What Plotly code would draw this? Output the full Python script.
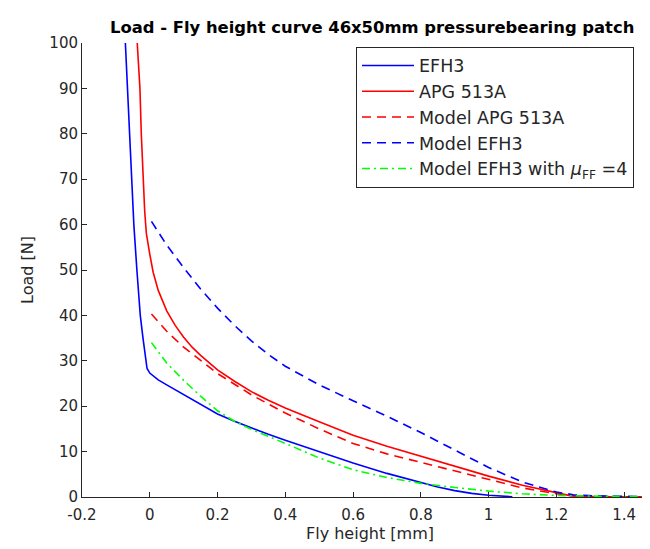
import plotly.graph_objects as go

# ---- data ----
efh3_x = [-0.072, -0.066, -0.06, -0.054, -0.047, -0.038, -0.028, -0.02, -0.013, -0.008, 0.0, 0.012,
          0.025, 0.05, 0.08, 0.12, 0.16, 0.2, 0.25, 0.3, 0.35, 0.4, 0.5, 0.6, 0.7, 0.8, 0.85, 0.9,
          0.95, 1.0, 1.04, 1.07]
efh3_y = [100, 90, 80, 70, 60, 50, 40, 35, 31, 28.3, 27.3, 26.5,
          25.8, 24.7, 23.4, 21.6, 19.9, 18.3, 16.7, 15.2, 13.8, 12.5, 10.0, 7.5, 5.2, 3.1, 2.2, 1.4,
          0.8, 0.4, 0.15, 0.05]

apg_x = [-0.037, -0.033, -0.029, -0.025, -0.02, -0.015, -0.01, -0.005, 0.0, 0.01, 0.025, 0.05,
         0.075, 0.1, 0.125, 0.15, 0.2, 0.25, 0.3, 0.35, 0.4, 0.5, 0.6, 0.7, 0.8, 0.9, 1.0, 1.1,
         1.15, 1.2, 1.24, 1.3, 1.4, 1.5]
apg_y = [100, 95, 90, 80, 70, 63, 58, 55.5, 53.5, 49.5, 45.5, 41.0,
         37.8, 35.2, 33.0, 31.2, 28.0, 25.5, 23.2, 21.3, 19.6, 16.6, 13.6, 11.2, 9.0, 6.8, 4.6, 2.6,
         1.8, 1.0, 0.3, 0.1, 0.05, 0.02]

model_apg_x = [0.005, 0.05, 0.1, 0.15, 0.2, 0.3, 0.4, 0.5, 0.6, 0.7, 0.8, 0.9, 1.0, 1.1, 1.2,
               1.25, 1.3, 1.4, 1.5]
model_apg_y = [40.3, 36.5, 33, 30, 27.2, 22.5, 18.5, 15, 11.8, 9.5, 7.6, 5.7, 3.9, 2.0, 0.7,
               0.25, 0.1, 0.03, 0.01]

model_efh3_x = [0.005, 0.05, 0.1, 0.15, 0.2, 0.25, 0.3, 0.35, 0.4, 0.5, 0.6, 0.7, 0.8, 0.9, 1.0,
                1.1, 1.2, 1.25, 1.3, 1.4, 1.5]
model_efh3_y = [60.7, 55.5, 50.5, 45.8, 41.6, 37.8, 34.4, 31.4, 28.8, 24.7, 21.2, 17.8, 14.2,
                10.3, 6.5, 3.3, 1.1, 0.5, 0.3, 0.15, 0.05]

model_mu_x = [0.005, 0.05, 0.1, 0.15, 0.2, 0.25, 0.3, 0.35, 0.4, 0.5, 0.6, 0.7, 0.8, 0.9, 1.0,
              1.1, 1.2, 1.3, 1.4, 1.5]
model_mu_y = [34, 29.5, 25.7, 22.2, 19.0, 16.7, 14.9, 13.4, 11.8, 8.6, 6.0, 4.3, 3.0, 2.1, 1.3,
              0.7, 0.35, 0.2, 0.1, 0.05]

x_ticks = [-0.2, 0, 0.2, 0.4, 0.6, 0.8, 1, 1.2, 1.4]
x_tick_labels = ["-0.2", "0", "0.2", "0.4", "0.6", "0.8", "1", "1.2", "1.4"]
y_ticks = [0, 10, 20, 30, 40, 50, 60, 70, 80, 90, 100]

FONT = "DejaVu Sans"
AX = "#262626"

fig = go.Figure()
fig.add_trace(go.Scatter(x=efh3_x, y=efh3_y, mode="lines", name="EFH3",
                         line=dict(color="#0000FF", width=1.6)))
fig.add_trace(go.Scatter(x=apg_x, y=apg_y, mode="lines", name="APG 513A",
                         line=dict(color="#FF0000", width=1.6)))
fig.add_trace(go.Scatter(x=model_apg_x, y=model_apg_y, mode="lines", name="Model APG 513A",
                         line=dict(color="#FF0000", width=1.6, dash="9px,6px")))
fig.add_trace(go.Scatter(x=model_efh3_x, y=model_efh3_y, mode="lines", name="Model EFH3",
                         line=dict(color="#0000FF", width=1.6, dash="9px,6px")))
fig.add_trace(go.Scatter(x=model_mu_x, y=model_mu_y, mode="lines",
                         name="Model EFH3 with <i>μ</i><sub>FF</sub> =4",
                         line=dict(color="#00FF00", width=1.6, dash="8px,4px,2px,4px")))

fig.update_layout(
    width=650, height=549,
    margin=dict(l=74, r=0, t=35, b=60),
    paper_bgcolor="white", plot_bgcolor="white",
    font=dict(family=FONT, size=15, color=AX),
    showlegend=True,
    legend=dict(x=0.4757, y=0.992, xanchor="left", yanchor="top",
                bgcolor="white", bordercolor=AX, borderwidth=1,
                font=dict(family=FONT, size=17.5, color=AX),
                itemwidth=52, tracegroupgap=0),
    xaxis=dict(range=[-0.2, 1.5], tickmode="array", tickvals=x_ticks, ticktext=x_tick_labels,
               ticks="inside", ticklen=5, tickcolor=AX, showline=True, linecolor=AX,
               linewidth=1, showgrid=False, zeroline=False, mirror=False,
               ticklabelstandoff=4,
               tickfont=dict(family=FONT, size=15, color=AX),
               title=dict(text="Fly height [mm]", font=dict(family=FONT, size=16, color=AX),
                          standoff=0)),
    yaxis=dict(range=[0, 100], tickmode="array", tickvals=y_ticks,
               ticks="inside", ticklen=5, tickcolor=AX, showline=True, linecolor=AX,
               linewidth=1, showgrid=False, zeroline=False, mirror=False,
               tickfont=dict(family=FONT, size=15, color=AX),
               title=dict(text="Load [N]", font=dict(family=FONT, size=16, color=AX),
                          standoff=11)),
    annotations=[dict(text="<b>Load - Fly height curve 46x50mm pressurebearing patch</b>",
                      xref="paper", yref="paper", x=0.5035, y=1.035,
                      xanchor="center", yanchor="middle", showarrow=False,
                      font=dict(family=FONT, size=16.4, color="black"))],
)

fig.write_html("out.html")
